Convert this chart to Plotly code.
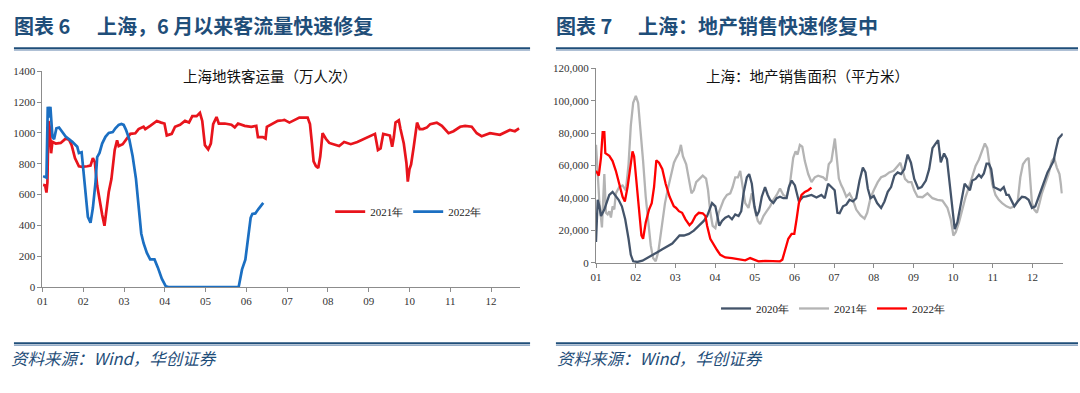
import plotly.graph_objects as go

# ---------------- data ----------------
month_ticks = [1, 2, 3, 4, 5, 6, 7, 8, 9, 10, 11, 12]
month_labels = ["01", "02", "03", "04", "05", "06", "07", "08", "09", "10", "11", "12"]

# Left: Shanghai metro ridership (10k person-trips); x = month position
metro_2021_m = [1.015, 1.064, 1.097, 1.121, 1.146, 1.178, 1.211, 1.243, 1.324, 1.446, 1.568, 1.65, 1.715,
                1.796, 1.893, 1.975, 2.097, 2.178, 2.235, 2.284, 2.341, 2.398, 2.463, 2.52, 2.576, 2.625,
                2.69, 2.771, 2.829, 2.869, 2.967, 3.072, 3.154, 3.276, 3.357, 3.479, 3.52, 3.641, 3.804,
                3.91, 3.991, 4.048, 4.129, 4.17, 4.251, 4.373, 4.495, 4.593, 4.674, 4.78, 4.861, 4.918,
                4.983, 5.064, 5.129, 5.186, 5.268, 5.324, 5.471, 5.633, 5.715, 5.796, 5.959, 6.121, 6.243,
                6.284, 6.406, 6.471, 6.503, 6.609, 6.69, 6.771, 6.893, 6.934, 7.056, 7.178, 7.3, 7.503,
                7.56, 7.609, 7.649, 7.706, 7.763, 7.812, 7.869, 7.95, 8.032, 8.154, 8.276, 8.398, 8.56,
                8.722, 8.885, 9.048, 9.154, 9.227, 9.292, 9.357, 9.414, 9.52, 9.576, 9.617, 9.658, 9.739,
                9.78, 9.861, 9.926, 9.959, 10.0, 10.04, 10.105, 10.186, 10.251, 10.33, 10.43, 10.51, 10.67,
                10.795, 10.958, 11.08, 11.243, 11.365, 11.527, 11.65, 11.77, 11.975, 12.219, 12.463,
                12.585, 12.69]
metro_2021_v = [663, 660, 613, 680, 1078, 1036, 868, 942, 931, 935, 963, 956, 920,
                837, 784, 780, 784, 788, 837, 810, 659, 565, 471, 398, 513, 617,
                701, 890, 952, 915, 927, 963, 994, 998, 1025, 1040, 1025, 1046, 1078,
                1067, 1061, 984, 990, 994, 1040, 1053, 1078, 1067, 1109, 1109, 1130, 1078,
                921, 893, 931, 1057, 1103, 1061, 1061, 1053, 1036, 1061, 1046, 1040, 1046,
                973, 973, 963, 1040, 1055, 1067, 1078, 1082, 1085, 1067, 1082, 1099, 1099,
                1057, 931, 816, 785, 772, 847, 998, 962, 935, 925, 915, 941, 927,
                941, 962, 983, 994, 889, 900, 994, 990, 983, 910, 973, 1067, 1082,
                1025, 931, 805, 684, 764, 795, 910, 1067, 1025, 1025, 1036, 1057, 1067,
                1046, 998, 1011, 1040, 1046, 1040, 998, 979, 998, 988, 1019,
                1011, 1030]

metro_2022_m = [1.015, 1.097, 1.129, 1.162, 1.194, 1.243, 1.284, 1.341, 1.406, 1.568, 1.731, 1.853, 1.893,
                1.959, 1.991, 2.056, 2.113, 2.178, 2.235, 2.3, 2.341, 2.398, 2.463, 2.544, 2.625, 2.723,
                2.788, 2.869, 2.934, 2.991, 3.048, 3.129, 3.21, 3.292, 3.357, 3.422, 3.479, 3.56, 3.641,
                3.747, 3.828, 3.926, 4.024, 4.09, 5.81, 5.894, 5.975, 6.04, 6.105, 6.146, 6.219, 6.3,
                6.381, 6.414]
metro_2022_v = [720, 710, 1170, 1100, 1170, 975, 960, 1030, 1035, 977, 942, 910, 870,
                875, 790, 603, 456, 418, 513, 680, 843, 870, 931, 975, 1000, 1005,
                1030, 1052, 1058, 1052, 1020, 958, 850, 704, 536, 348, 285, 222, 180,
                180, 128, 55, 5, 0, 0, 115, 178, 324, 450, 475, 478, 508,
                538, 546]

# Right: Shanghai housing sales area (m2)
sales_2020_m = [1.0, 1.043, 1.085, 1.126, 1.168, 1.21, 1.251, 1.335, 1.418, 1.485, 1.569, 1.652, 1.736,
                1.82, 1.877, 1.937, 2.045, 2.17, 2.296, 2.42, 2.546, 2.671, 2.797, 2.922, 3.048, 3.105,
                3.215, 3.34, 3.465, 3.59, 3.716, 3.8, 3.882, 3.925, 4.008, 4.05, 4.108, 4.175, 4.258,
                4.342, 4.426, 4.509, 4.593, 4.66, 4.718, 4.802, 4.86, 4.927, 4.993, 5.05, 5.11, 5.178,
                5.26, 5.328, 5.386, 5.47, 5.554, 5.637, 5.72, 5.804, 5.862, 5.93, 6.013, 6.113, 6.22,
                6.3, 6.43, 6.556, 6.68, 6.765, 6.849, 6.932, 7.015, 7.083, 7.14, 7.225, 7.308, 7.39,
                7.475, 7.558, 7.642, 7.725, 7.792, 7.85, 7.917, 8.0, 8.085, 8.185, 8.27, 8.353, 8.436,
                8.52, 8.603, 8.687, 8.77, 8.854, 8.937, 9.02, 9.12, 9.205, 9.313, 9.396, 9.48, 9.563,
                9.622, 9.689, 9.772, 9.845, 9.9, 9.95, 10.0, 10.04, 10.107, 10.19, 10.29, 10.357,
                10.423, 10.483, 10.566, 10.65, 10.709, 10.775, 10.842, 10.9, 10.96, 11.025, 11.11,
                11.193, 11.276, 11.343, 11.4, 11.46, 11.543, 11.627, 11.735, 11.82, 11.902, 11.987,
                12.07, 12.153, 12.237, 12.32, 12.378, 12.446, 12.53, 12.588, 12.655, 12.714, 12.765]
sales_2020_v = [12900, 38900, 34900, 28900, 30900, 32900, 35900, 41900, 43800, 41900, 38900, 34900, 26900,
                14900, 4990, 990, 600, 1400, 2990, 4960, 6580, 8370, 9970, 11960, 15360, 16900,
                16900, 17900, 19900, 22900, 25900, 28900, 33900, 36900, 34900, 28900, 22900, 25900, 27900,
                28900, 26900, 29900, 28900, 31900, 42900, 52800, 54800, 48800, 34900, 28900, 31900, 40800,
                46800, 41900, 38900, 36900, 39900, 40800, 39900, 39900, 46800, 50800, 47800, 37900, 40800,
                41100, 41900, 40300, 41900, 39900, 48800, 46800, 44800, 30900, 30600, 34900, 35900, 38900,
                37900, 39900, 50800, 58800, 55800, 45900, 39900, 41300, 36900, 33900, 37900, 43800, 46800,
                53800, 55800, 54800, 57800, 66800, 61800, 51800, 45900, 46800, 50800, 57800, 70800, 73700,
                75700, 62000, 67500, 64000, 52000, 40000, 28000, 20900, 24900, 34900, 48800, 46800,
                44800, 50800, 51800, 54400, 52800, 55200, 61200, 61200, 57800, 46800, 45900,
                44800, 46800, 41900, 41900, 38900, 34900, 37900, 40800, 40500, 38900, 33900,
                34900, 40500, 45900, 50800, 55800, 58800, 62800, 69800, 76700, 78300, 79700]

sales_2021_m = [1.0, 1.03, 1.084, 1.15, 1.21, 1.251, 1.293, 1.335, 1.376, 1.418, 1.46, 1.5, 1.585, 1.67,
                1.752, 1.82, 1.877, 1.937, 2.003, 2.062, 2.128, 2.187, 2.253, 2.32, 2.379, 2.438, 2.504,
                2.571, 2.654, 2.739, 2.822, 2.905, 2.964, 3.022, 3.09, 3.14, 3.19, 3.273, 3.34, 3.406,
                3.465, 3.524, 3.607, 3.69, 3.774, 3.824, 3.882, 3.94, 4.008, 4.092, 4.217, 4.3, 4.383,
                4.443, 4.509, 4.576, 4.634, 4.693, 4.76, 4.843, 4.927, 5.01, 5.078, 5.135, 5.22, 5.303,
                5.386, 5.47, 5.554, 5.637, 5.72, 5.804, 5.887, 5.97, 6.03, 6.08, 6.138, 6.198, 6.263,
                6.348, 6.431, 6.514, 6.598, 6.723, 6.807, 6.865, 6.932, 7.02, 7.07, 7.12, 7.18, 7.225,
                7.308, 7.39, 7.475, 7.558, 7.667, 7.767, 7.834, 7.917, 8.0, 8.1, 8.185, 8.285, 8.39,
                8.5, 8.603, 8.67, 8.728, 8.787, 8.87, 8.95, 9.02, 9.103, 9.229, 9.354, 9.48, 9.605,
                9.73, 9.856, 9.94, 10.007, 10.065, 10.148, 10.232, 10.315, 10.398, 10.483, 10.566,
                10.65, 10.733, 10.8, 10.86, 10.925, 10.985, 11.068, 11.15, 11.235, 11.343, 11.443,
                11.54, 11.627, 11.694, 11.76, 11.844, 11.902, 11.944, 11.987, 12.045, 12.112, 12.178,
                12.237, 12.32, 12.404, 12.487, 12.546, 12.613, 12.68, 12.714, 12.74]
sales_2021_v = [72800, 60000, 37900, 21900, 54800, 30900, 29900, 31900, 28000, 34900, 33000, 42900, 46800, 47800,
                44800, 60800, 84700, 98700, 103000, 98700, 80700, 62800, 40800, 24900, 10900, 2990, 990,
                6980, 20900, 36900, 46800, 54800, 61800, 64800, 67800, 72800, 65800, 60800, 52800, 42900,
                44800, 49800, 51800, 53800, 52000, 44800, 30900, 22900, 21500, 30900, 38900, 41900, 42900,
                46800, 52800, 52800, 56800, 45900, 36900, 33900, 42900, 31900, 25900, 23900, 28900, 31900,
                34900, 38900, 41900, 45900, 41900, 40800, 48800, 64800, 68800, 66800, 72800, 71700, 62800,
                54800, 49800, 52800, 53800, 52800, 50800, 60800, 62800, 76700, 64000, 52000, 48000, 45900,
                40800, 42900, 38900, 32900, 29300, 27300, 30900, 39900, 44800, 49800, 52800, 53800, 55800,
                56800, 59800, 61800, 56800, 51800, 49800, 49800, 44800, 40800, 40500, 42900, 39900, 38900,
                38500, 34000, 26900, 16900, 18900, 24900, 32900, 40800, 46800, 53800, 59800,
                63800, 69800, 73700, 70800, 60800, 48800, 41900, 38900, 36900, 34900, 33900,
                34900, 37900, 52800, 60800, 63800, 64800, 52800, 36900, 32900, 30900, 36900,
                42900, 48800, 54800, 62800, 64800, 58800, 54800, 48800, 42900]

sales_2022_m = [1.0, 1.07, 1.125, 1.168, 1.21, 1.235, 1.335, 1.418, 1.5, 1.585, 1.67, 1.727, 1.795, 1.852,
                1.92, 1.96, 2.02, 2.087, 2.145, 2.187, 2.253, 2.337, 2.404, 2.463, 2.52, 2.588, 2.672,
                2.755, 2.855, 2.96, 3.02, 3.09, 3.17, 3.255, 3.356, 3.42, 3.506, 3.59, 3.69, 3.757, 3.8,
                3.88, 3.967, 4.05, 4.133, 4.258, 4.426, 4.593, 4.76, 4.885, 5.01, 5.094, 5.26, 5.428,
                5.637, 5.696, 5.762, 5.846, 5.93, 5.997, 6.055, 6.113, 6.18, 6.263, 6.348, 6.431]
sales_2022_v = [56800, 53800, 64800, 80700, 80700, 67700, 66000, 62800, 56800, 48800, 40800, 37900, 46800, 56800,
                68800, 65800, 50800, 30900, 16900, 14900, 24900, 32900, 36900, 46800, 63200, 61800, 57800,
                48800, 40800, 34900, 33900, 31900, 30900, 26900, 23300, 24900, 28900, 30900, 30600, 28900, 22900,
                14900, 10900, 7950, 4960, 3390, 2990, 2390, 1590, 2990, 1990, 990, 1200, 990,
                990, 1990, 7970, 14900, 17900, 17900, 26900, 36900, 41900, 43800, 44800, 46400]

# ---------------- helpers ----------------
W, H = 1080, 393


def px(x):
    return x / W


def py(y):
    return 1 - y / H


NAVY = "#1F4E79"
AXIS = "#8C8C8C"
SERIF = "Liberation Serif, Times New Roman, serif"
CJK = "Noto Sans CJK SC"

fig = go.Figure()

# left chart
fig.add_trace(go.Scatter(x=metro_2021_m, y=metro_2021_v, mode="lines", name="2021年",
                         line=dict(color="#E8141C", width=2.7), xaxis="x", yaxis="y", legend="legend"))
fig.add_trace(go.Scatter(x=metro_2022_m, y=metro_2022_v, mode="lines", name="2022年",
                         line=dict(color="#1B6FC2", width=2.7), xaxis="x", yaxis="y", legend="legend"))

# right chart
fig.add_trace(go.Scatter(x=sales_2021_m, y=sales_2021_v, mode="lines", name="2021年",
                         line=dict(color="#B4B4B4", width=2.3), xaxis="x2", yaxis="y2",
                         legend="legend2", legendrank=2))
fig.add_trace(go.Scatter(x=sales_2020_m, y=sales_2020_v, mode="lines", name="2020年",
                         line=dict(color="#44546A", width=2.3), xaxis="x2", yaxis="y2",
                         legend="legend2", legendrank=1))
fig.add_trace(go.Scatter(x=sales_2022_m, y=sales_2022_v, mode="lines", name="2022年",
                         line=dict(color="#FF0000", width=2.3), xaxis="x2", yaxis="y2",
                         legend="legend2", legendrank=3))

tickfont = dict(family=SERIF, size=11, color="#333333")
common_x = dict(tickvals=month_ticks, ticktext=month_labels, ticks="outside", ticklen=4,
                tickcolor=AXIS, showline=True, linecolor=AXIS, linewidth=1, showgrid=False,
                zeroline=False, tickfont=tickfont, fixedrange=True)
common_y = dict(ticks="outside", ticklen=4, tickcolor=AXIS, showline=True, linecolor=AXIS,
                linewidth=1, showgrid=False, zeroline=False, tickfont=tickfont, fixedrange=True)

fig.update_layout(
    width=W, height=H,
    margin=dict(l=0, r=0, t=0, b=0),
    paper_bgcolor="white", plot_bgcolor="white",
    xaxis=dict(domain=[px(36.7), px(516.7)], range=[1, 12.707], anchor="y", **common_x),
    yaxis=dict(domain=[py(290), py(67.3)], range=[0, 1400], dtick=200, anchor="x", **common_y),
    xaxis2=dict(domain=[px(593.3), px(1062.7)], range=[1, 12.764], anchor="y2", **common_x),
    yaxis2=dict(domain=[py(265), py(64.3)], range=[0, 120000], dtick=20000, tickformat=",",
                anchor="x2", **common_y),
    legend=dict(orientation="h", x=px(326), y=py(212), xanchor="left", yanchor="middle",
                font=dict(family=SERIF, size=11, color="#222222"), bgcolor="rgba(0,0,0,0)",
                itemwidth=30),
    legend2=dict(orientation="h", x=px(714), y=py(312), xanchor="left", yanchor="middle",
                 font=dict(family=SERIF, size=11, color="#222222"), bgcolor="rgba(0,0,0,0)",
                 itemwidth=30),
    showlegend=True,
)

annotations = [
    dict(text="<b>图表 6</b>", x=px(6), y=py(20), font=dict(family=CJK, size=20, color=NAVY)),
    dict(text="<b>上海，6 月以来客流量快速修复</b>", x=px(89), y=py(20),
         font=dict(family=CJK, size=20, color=NAVY)),
    dict(text="<b>图表 7</b>", x=px(551), y=py(20), font=dict(family=CJK, size=20, color=NAVY)),
    dict(text="<b>上海：地产销售快速修复中</b>", x=px(634), y=py(20),
         font=dict(family=CJK, size=20, color=NAVY)),
    dict(text="上海地铁客运量（万人次）", x=px(176), y=py(72), font=dict(family=CJK, size=14.5, color="#111111")),
    dict(text="上海：地产销售面积（平方米）", x=px(702), y=py(72), font=dict(family=CJK, size=14.5, color="#111111")),
    dict(text="资料来源：Wind，华创证券", x=px(3), y=py(363),
         font=dict(family=CJK, size=16.5, color=NAVY, style="italic")),
    dict(text="资料来源：Wind，华创证券", x=px(552), y=py(363),
         font=dict(family=CJK, size=16.5, color=NAVY, style="italic")),
]
for a in annotations:
    a.update(xref="paper", yref="paper", xanchor="left", yanchor="middle", showarrow=False)
fig.update_layout(annotations=annotations)

shapes = []
for (x0, x1) in [(8, 527), (553, 1078)]:
    for yy in [43.5, 348]:
        shapes.append(dict(type="line", xref="paper", yref="paper", x0=px(x0), x1=px(x1),
                           y0=py(yy), y1=py(yy), line=dict(color=NAVY, width=2)))
        shapes.append(dict(type="line", xref="paper", yref="paper", x0=px(x0), x1=px(x1),
                           y0=py(yy + 2), y1=py(yy + 2), line=dict(color="#5B7FA8", width=0.8)))
fig.update_layout(shapes=shapes)

fig.write_html("out.html")
